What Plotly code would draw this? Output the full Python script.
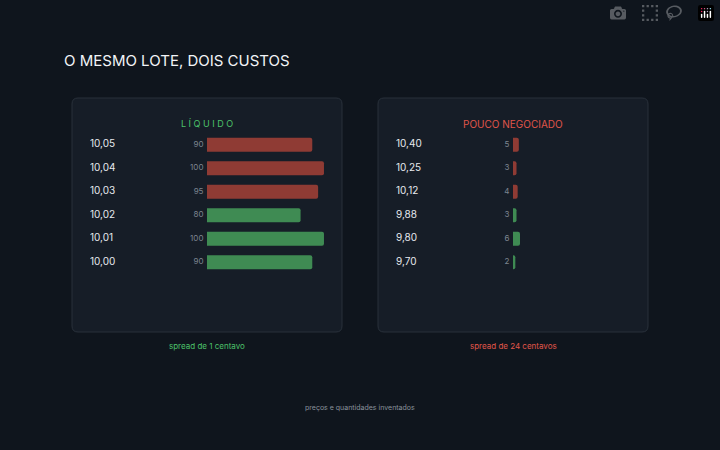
import plotly.graph_objects as go

# Data
liquid_prices = ['10,05', '10,04', '10,03', '10,02', '10,01', '10,00']
liquid_qty = [90, 100, 95, 80, 100, 90]
thin_prices = ['10,40', '10,25', '10,12', '9,88', '9,80', '9,70']
thin_qty = [5, 3, 4, 3, 6, 2]
sides = ['ask', 'ask', 'ask', 'bid', 'bid', 'bid']

RED = '#8f3b34'
GREEN = '#3f8b53'
BG = '#0f151d'
PANEL = '#161d27'
W, H = 720, 450


def px_x(x):
    return x / W


def px_y(y):
    return 1 - y / H


def rounded(x0, y0, x1, y1, r=6):
    X0, X1 = px_x(x0), px_x(x1)
    Y0, Y1 = px_y(y1), px_y(y0)
    rx, ry = r / W, r / H
    return (f'M {X0+rx},{Y0} L {X1-rx},{Y0} Q {X1},{Y0} {X1},{Y0+ry} '
            f'L {X1},{Y1-ry} Q {X1},{Y1} {X1-rx},{Y1} L {X0+rx},{Y1} '
            f'Q {X0},{Y1} {X0},{Y1-ry} L {X0},{Y0+ry} Q {X0},{Y0} {X0+rx},{Y0} Z')


fig = go.Figure()
colors = [RED if s == 'ask' else GREEN for s in sides]
rows = list(range(len(sides)))

for i, (prices, qty) in enumerate([(liquid_prices, liquid_qty), (thin_prices, thin_qty)]):
    xa = 'x' if i == 0 else 'x2'
    ya = 'y' if i == 0 else 'y2'
    fig.add_trace(go.Bar(x=qty, y=rows, orientation='h',
                         marker=dict(color=colors, cornerradius=2, line=dict(width=0)),
                         xaxis=xa, yaxis=ya, hoverinfo='skip'))
    fig.add_trace(go.Scatter(x=[-100] * len(rows), y=rows, mode='text', text=prices,
                             textposition='middle right', xaxis=xa, yaxis=ya,
                             textfont=dict(color='#e6e9ee', size=10)))
    fig.add_trace(go.Scatter(x=[-3] * len(rows), y=rows, mode='text', text=[str(q) for q in qty],
                             textposition='middle left', xaxis=xa, yaxis=ya,
                             textfont=dict(color='#7d8590', size=8)))

ydom = [px_y(274), px_y(133)]
axis_common = dict(visible=False, fixedrange=True)
fig.update_layout(
    width=W, height=H, margin=dict(l=0, r=0, t=0, b=0),
    paper_bgcolor=BG, plot_bgcolor='rgba(0,0,0,0)', showlegend=False,
    bargap=0.4, font=dict(family='Inter, Lato, sans-serif'),
    xaxis=dict(domain=[px_x(90), px_x(342)], range=[-100, 115.4], **axis_common),
    xaxis2=dict(domain=[px_x(396), px_x(648)], range=[-100, 115.4], **axis_common),
    yaxis=dict(domain=ydom, range=[5.5, -0.5], **axis_common),
    yaxis2=dict(domain=ydom, range=[5.5, -0.5], anchor='x2', **axis_common),
    shapes=[
        dict(type='path', path=rounded(72, 98, 342, 332), xref='paper', yref='paper',
             fillcolor=PANEL, line=dict(color='#29313b', width=1), layer='below'),
        dict(type='path', path=rounded(378, 98, 648, 332), xref='paper', yref='paper',
             fillcolor=PANEL, line=dict(color='#29313b', width=1), layer='below'),
    ],
    annotations=[
        dict(text='O MESMO LOTE, DOIS CUSTOS', x=px_x(62), y=px_y(49), xanchor='left',
             font=dict(size=15, color='#f2f4f7')),
        dict(text='L Í Q U I D O', x=px_x(207), y=px_y(116), font=dict(size=9, color='#4cc26a')),
        dict(text='POUCO NEGOCIADO', x=px_x(513), y=px_y(116), font=dict(size=10, color='#e0554a')),
        dict(text='spread de 1 centavo', x=px_x(207), y=px_y(353), font=dict(size=8, color='#4cc26a')),
        dict(text='spread de 24 centavos', x=px_x(513), y=px_y(353), font=dict(size=8, color='#e0554a')),
        dict(text='preços e quantidades inventados', x=0.5, y=px_y(414), font=dict(size=7, color='#8a929c')),
    ],
)
for a in fig.layout.annotations:
    a.xref = 'paper'
    a.yref = 'paper'
    a.showarrow = False
    if a.xanchor is None:
        a.xanchor = 'center'

fig.write_html('out.html',
               post_script="document.body.style.margin='0';document.body.style.background='#0f151d';")
